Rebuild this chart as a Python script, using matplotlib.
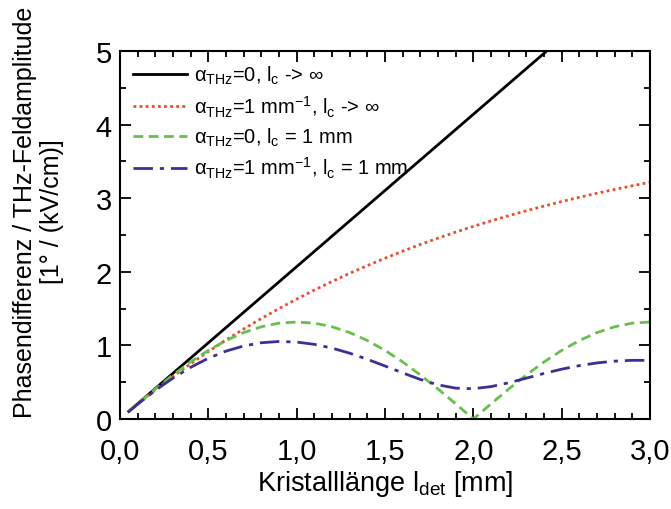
import matplotlib
matplotlib.use("Agg")
import matplotlib.pyplot as plt
from matplotlib.ticker import MultipleLocator, FuncFormatter

plt.rcParams["font.family"] = ["Liberation Sans", "DejaVu Sans"]
plt.rcParams["mathtext.fontset"] = "custom"
plt.rcParams["mathtext.rm"] = "Liberation Sans"
plt.rcParams["mathtext.it"] = "Liberation Sans:italic"
plt.rcParams["mathtext.bf"] = "Liberation Sans:bold"

# crystal length in mm
length = [0.05, 0.1, 0.2, 0.3, 0.4, 0.5, 0.6, 0.7, 0.8, 0.9, 1.0,
          1.1, 1.2, 1.3, 1.4, 1.5, 1.6, 1.7, 1.8, 1.9, 2.0,
          2.1, 2.2, 2.3, 2.4, 2.5, 2.6, 2.7, 2.8, 2.9, 3.0]

# alpha=0, lc -> inf
no_abs_inf = [0.104, 0.207, 0.414, 0.621, 0.828, 1.035, 1.242, 1.449, 1.656, 1.863, 2.07,
              2.277, 2.484, 2.691, 2.898, 3.105, 3.312, 3.519, 3.726, 3.933, 4.14,
              4.347, 4.554, 4.761, 4.968, 5.175, 5.382, 5.589, 5.796, 6.003, 6.21]

# alpha=1/mm, lc -> inf
abs_inf = [0.102, 0.202, 0.394, 0.577, 0.751, 0.916, 1.073, 1.223, 1.365, 1.500, 1.629,
           1.751, 1.868, 1.979, 2.084, 2.184, 2.280, 2.371, 2.457, 2.539, 2.617,
           2.691, 2.762, 2.829, 2.893, 2.954, 3.012, 3.067, 3.119, 3.169, 3.216]

# alpha=0, lc = 1 mm
no_abs_lc = [0.103, 0.206, 0.407, 0.598, 0.775, 0.932, 1.066, 1.174, 1.253, 1.302, 1.318,
             1.302, 1.253, 1.174, 1.066, 0.932, 0.775, 0.598, 0.407, 0.206, 0.0,
             0.206, 0.407, 0.598, 0.775, 0.932, 1.066, 1.174, 1.253, 1.302, 1.318]

# alpha=1/mm, lc = 1 mm
abs_lc = [0.102, 0.201, 0.388, 0.556, 0.702, 0.825, 0.922, 0.992, 1.036, 1.053, 1.045,
          1.014, 0.963, 0.894, 0.811, 0.720, 0.626, 0.537, 0.464, 0.419, 0.411,
          0.440, 0.492, 0.555, 0.619, 0.677, 0.725, 0.762, 0.786, 0.797, 0.796]

fig = plt.figure(figsize=(6.71, 5.10), dpi=100)
ax = fig.add_axes([0.1788, 0.1765, 0.790, 0.7216])

ax.plot(length, no_abs_inf, color="black", lw=2.0, ls="-",
        label=r"α$_{\rm THz}$=0, l$_{\rm c}$ -> ∞")
ax.plot(length, abs_inf, color="#ee4b2b", lw=2.0, ls=(0, (1, 1.2)),
        label=r"α$_{\rm THz}$=1 mm$^{-1}$, l$_{\rm c}$ -> ∞")
ax.plot(length, no_abs_lc, color="#66c14c", lw=2.0, ls=(0, (3.5, 2)),
        label=r"α$_{\rm THz}$=0, l$_{\rm c}$ = 1 mm")
ax.plot(length, abs_lc, color="#3d2f98", lw=2.0, ls=(0, (7, 2.5, 1.5, 2.5)),
        label=r"α$_{\rm THz}$=1 mm$^{-1}$, l$_{\rm c}$ = 1 mm")

ax.set_xlim(0, 3.0)
ax.set_ylim(0, 5)
ax.xaxis.set_major_locator(MultipleLocator(0.5))
ax.xaxis.set_minor_locator(MultipleLocator(0.1))
ax.yaxis.set_major_locator(MultipleLocator(1))
ax.yaxis.set_minor_locator(MultipleLocator(0.5))
ax.xaxis.set_major_formatter(FuncFormatter(lambda v, p: f"{v:.1f}".replace(".", ",")))
ax.tick_params(which="both", direction="in", top=True, right=True, width=1.3)
ax.tick_params(which="major", length=8, labelsize=21)
ax.tick_params(axis="x", which="major", pad=13)
ax.tick_params(axis="y", which="major", pad=6)
ax.tick_params(which="minor", length=4)
for s in ax.spines.values():
    s.set_linewidth(1.5)

ax.set_xlabel(r"Kristalllänge l$_{\rm det}$ [mm]", fontsize=19.5, labelpad=2)
ax.set_ylabel("Phasendifferenz / THz-Feldamplitude\n[1° / (kV/cm)]",
              fontsize=18, linespacing=1.2)
ax.yaxis.set_label_coords(-0.105, 0.565)

ax.legend(loc="upper left", frameon=False, fontsize=14.5, handlelength=2.7,
          handletextpad=0.35, labelspacing=0.35, borderaxespad=0.25,
          bbox_to_anchor=(0.0, 1.0))

fig.savefig("out.png", dpi=100)
